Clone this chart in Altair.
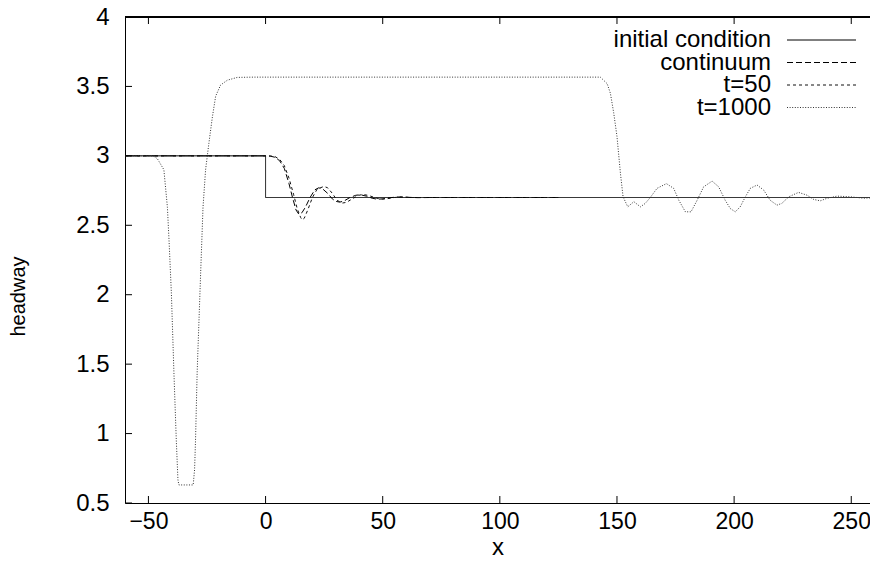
import altair as alt
import pandas as pd

# ---- data ----
series_names = ["initial condition", "continuum", "t=50", "t=1000"]

init_x = [-60, 0, 0, 262]
init_h = [3.0, 3.0, 2.7, 2.7]

cont_x = [-60, 0, 2, 4, 6, 8, 10, 11.5, 13, 14.2, 15.5, 17, 19, 21, 22.7, 24.5, 26.5, 28.5,
          30, 31.7, 33.5, 36, 38.5, 40.5, 43, 45.5, 47.6, 50, 53, 56, 60, 65, 70, 125]
cont_h = [3.0, 3.0, 2.998, 2.99, 2.965, 2.91, 2.80, 2.70, 2.61, 2.58, 2.59, 2.63, 2.70, 2.755,
          2.77, 2.76, 2.73, 2.69, 2.672, 2.667, 2.675, 2.70, 2.716, 2.72, 2.71, 2.695, 2.688,
          2.69, 2.698, 2.704, 2.702, 2.699, 2.70, 2.70]

t50_x = [-60, 0, 2, 4, 6, 8, 10, 12, 13.5, 15, 15.6, 16.5, 18, 20, 22, 24.9, 26.5, 28.5, 30.5,
         32.7, 34.5, 37, 39.5, 41.5, 44, 46.5, 49, 51.5, 55, 58, 62, 125]
t50_h = [3.0, 3.0, 2.999, 2.995, 2.975, 2.93, 2.84, 2.72, 2.62, 2.555, 2.54, 2.55, 2.61, 2.70,
         2.76, 2.78, 2.77, 2.73, 2.68, 2.66, 2.665, 2.69, 2.715, 2.722, 2.715, 2.70, 2.688,
         2.69, 2.70, 2.705, 2.70, 2.70]

t1000_x = [-60, -48, -46.2, -43.4, -41.9, -41.2, -40.2, -39.1, -38.1, -37.4, -37.0, -34, -30.9,
           -30.3, -29.9, -29.2, -27.7, -26.7, -25.6, -24.2, -22.7, -21.3, -19.2, -16.3, -12.1,
           -5, 142.9, 145.8, 147.2, 148.6, 150.0, 151.5, 152.6, 154.6, 157.2, 160, 162.1, 164.2,
           167.1, 171.1, 174.2, 176.4, 179.2, 181.6, 184.2, 187, 190.6, 193.4, 196.2, 198.4,
           200.5, 202.6, 204.8, 206.9, 209.8, 212.6, 215.4, 218.3, 220.4, 223.3, 227.5, 231.1,
           234, 236.8, 239.6, 243.9, 249.6, 255.3, 261.5]
t1000_h = [3.0, 3.0, 2.98, 2.90, 2.63, 2.39, 2.01, 1.43, 0.95, 0.666, 0.63, 0.63, 0.63,
           0.74, 0.95, 1.44, 2.16, 2.63, 2.90, 3.09, 3.28, 3.43, 3.51, 3.545, 3.565,
           3.567, 3.567, 3.52, 3.45, 3.31, 3.14, 2.87, 2.705, 2.633, 2.67, 2.633, 2.658, 2.70,
           2.766, 2.80, 2.766, 2.68, 2.597, 2.597, 2.68, 2.777, 2.818, 2.777, 2.68, 2.62,
           2.597, 2.633, 2.705, 2.766, 2.79, 2.754, 2.68, 2.645, 2.658, 2.705, 2.737, 2.717,
           2.686, 2.676, 2.694, 2.71, 2.705, 2.695, 2.70]

x_ticks = [-50, 0, 50, 100, 150, 200, 250]
y_ticks = [0.5, 1, 1.5, 2, 2.5, 3, 3.5, 4]

# ---- build tables ----
rows = []
for name, xs_, hs_ in [(series_names[0], init_x, init_h), (series_names[1], cont_x, cont_h),
                       (series_names[2], t50_x, t50_h), (series_names[3], t1000_x, t1000_h)]:
    for i, (xv, hv) in enumerate(zip(xs_, hs_)):
        rows.append({"series": name, "x": xv, "h": hv, "i": i})
df = pd.DataFrame(rows)

legend_df = pd.DataFrame({"series": series_names, "row": list(range(len(series_names)))})
xt_df = pd.DataFrame({"v": x_ticks})
yt_df = pd.DataFrame({"v": y_ticks})

W, H = 745, 486
FONT = "Liberation Sans"
FS = 24
X_DOMAIN = [-60, 258]
Y_DOMAIN = [0.5, 4]

dash_scale = alt.Scale(domain=series_names,
                       range=[[1, 0], [6, 3], [3, 3], [1, 1.6]])
color_scale = alt.Scale(domain=series_names,
                        range=["#000000", "#000000", "#111111", "#333333"])

xs = alt.Scale(domain=X_DOMAIN, nice=False, zero=False)
ys = alt.Scale(domain=Y_DOMAIN, nice=False, zero=False)
leg_scale = alt.Scale(domain=[0, 3], range=[23, 90.5], nice=False, zero=False)

lines = alt.Chart(df).mark_line(strokeWidth=1, clip=True).encode(
    x=alt.X("x:Q", scale=xs,
            axis=alt.Axis(values=x_ticks, title="x", ticks=False, grid=False,
                          labelPadding=7, titleY=51, titleBaseline="alphabetic",
                          labelFlush=False, labelFontSize=23)),
    y=alt.Y("h:Q", scale=ys,
            axis=alt.Axis(values=y_ticks, title="headway", format="~g", ticks=False,
                          grid=False, labelPadding=16, titleX=-101, titleY=279,
                          titleAlign="center", titleBaseline="alphabetic",
                          titleFontSize=20)),
    strokeDash=alt.StrokeDash("series:N", scale=dash_scale, legend=None),
    color=alt.Color("series:N", scale=color_scale, legend=None),
    detail="series:N",
    order="i:Q",
)

# inward tick marks (bottom, top, left) and top border
xt_bottom = alt.Chart(xt_df).mark_rule(color="black", strokeWidth=1).encode(
    x=alt.X("v:Q", scale=xs), y=alt.value(H), y2=alt.value(H - 7))
xt_top = alt.Chart(xt_df).mark_rule(color="black", strokeWidth=1).encode(
    x=alt.X("v:Q", scale=xs), y=alt.value(0), y2=alt.value(7))
yt_left = alt.Chart(yt_df).mark_rule(color="black", strokeWidth=1).encode(
    y=alt.Y("v:Q", scale=ys), x=alt.value(0), x2=alt.value(7))
top_border = alt.Chart(xt_df).mark_rule(color="black", strokeWidth=1).encode(
    x=alt.value(0), x2=alt.value(W), y=alt.value(0))

# legend (text right-aligned, sample line to the right)
leg_text = alt.Chart(legend_df).mark_text(
    align="right", baseline="middle", font=FONT, fontSize=FS, color="black"
).encode(
    text="series:N",
    x=alt.value(646),
    y=alt.Y("row:Q", scale=leg_scale, axis=None),
)
leg_lines = alt.Chart(legend_df).mark_rule(strokeWidth=1).encode(
    x=alt.value(662), x2=alt.value(731),
    y=alt.Y("row:Q", scale=leg_scale, axis=None),
    strokeDash=alt.StrokeDash("series:N", scale=dash_scale, legend=None),
    color=alt.Color("series:N", scale=color_scale, legend=None),
)
legend = alt.layer(leg_text, leg_lines)

main = alt.layer(lines, xt_bottom, xt_top, yt_left, top_border)

chart = alt.layer(main, legend).resolve_scale(y="independent").properties(
    width=W, height=H,
    autosize=alt.AutoSizeParams(type="none"),
    padding={"left": 117, "top": 9, "right": 0, "bottom": 58},
).configure_view(stroke=None).configure_axis(
    domainColor="black", domainWidth=1, labelFont=FONT, labelFontSize=FS,
    labelColor="black", titleFont=FONT, titleFontSize=FS, titleFontWeight="normal",
    titleColor="black",
)

chart.save("out.html", embed_options={"renderer": "svg", "actions": False})
